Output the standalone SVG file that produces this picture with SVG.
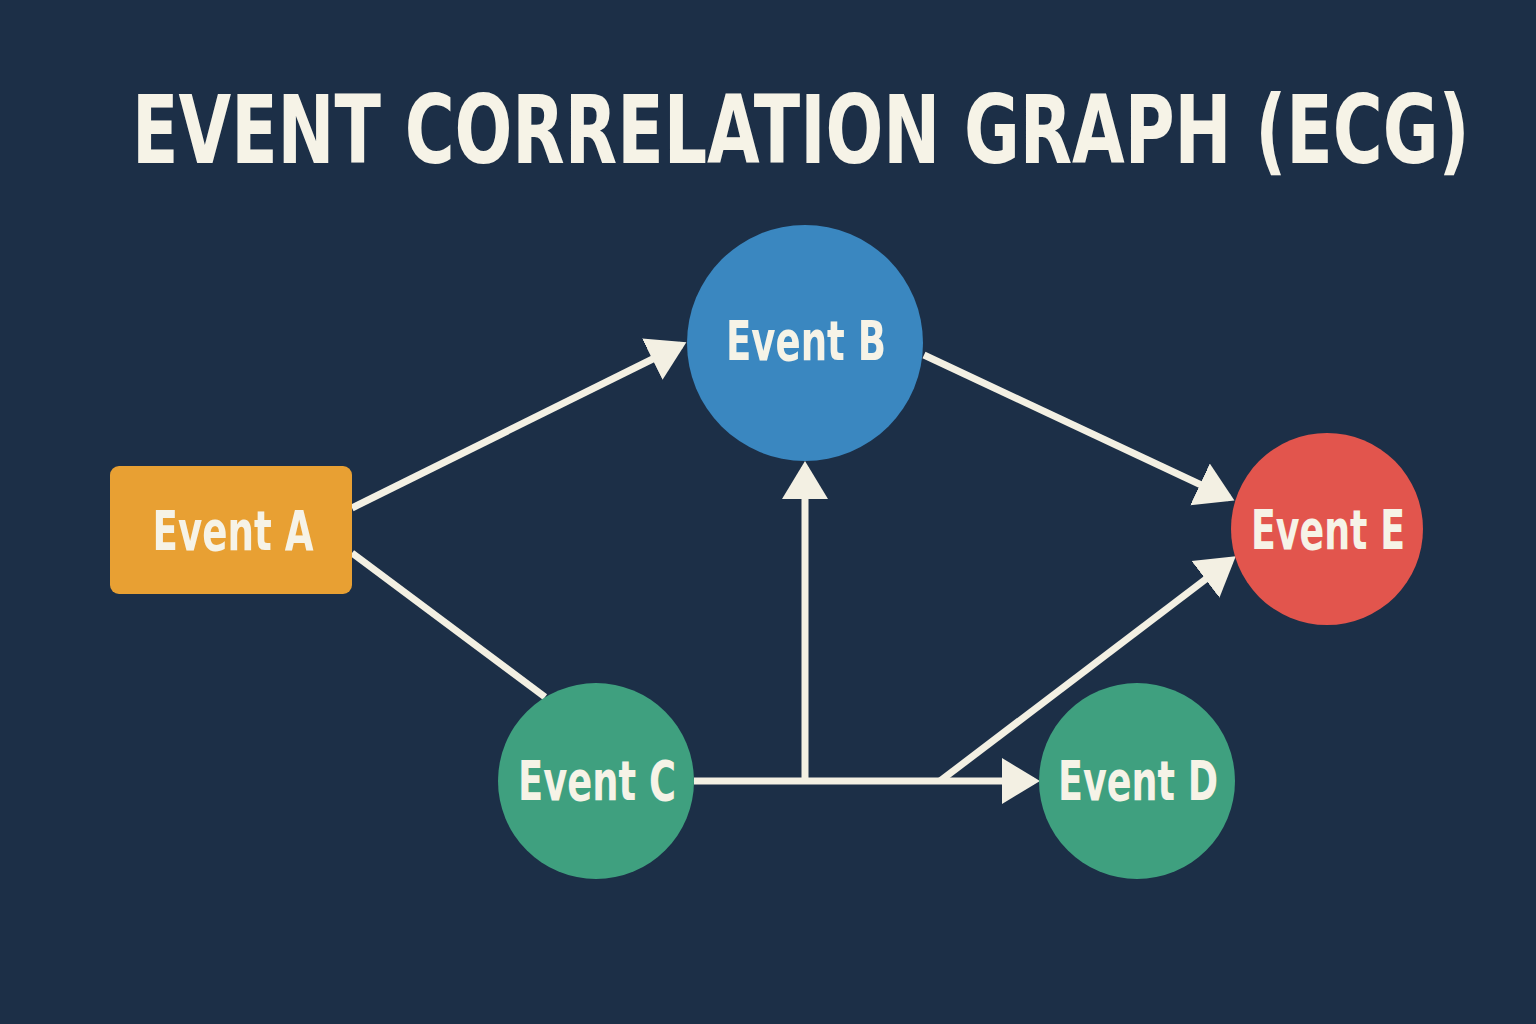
<svg xmlns="http://www.w3.org/2000/svg" width="1536" height="1024" viewBox="0 0 1536 1024">
  <style>
    .title { font-family: "DejaVu Sans Condensed", "DejaVu Sans", "Liberation Sans", sans-serif; font-stretch: condensed; font-weight: bold; fill: #f6f3e7; }
    .label { font-family: "DejaVu Sans Condensed", "DejaVu Sans", "Liberation Sans", sans-serif; font-stretch: condensed; font-weight: bold; fill: #f6f3e7; text-anchor: middle; }
    .edge { stroke: #f3f0e3; stroke-width: 7; fill: none; }
  </style>
  <defs>
    <marker id="arrow" markerUnits="userSpaceOnUse" markerWidth="40" markerHeight="48" refX="32" refY="24" orient="auto">
      <path d="M0,1 L38,24 L0,47 z" fill="#f3f0e3"/>
    </marker>
  </defs>
  <rect width="1536" height="1024" fill="#1c2f47"/>
  <text class="title" transform="translate(132,163) scale(0.8,1)" x="0" y="0" font-size="94" textLength="1672" lengthAdjust="spacingAndGlyphs">EVENT CORRELATION GRAPH (ECG)</text>

  <g id="connectors">
    <line class="edge" x1="352" y1="508" x2="681" y2="345" marker-end="url(#arrow)"/>
    <line class="edge" x1="352" y1="553" x2="545" y2="697"/>
    <line class="edge" x1="924" y1="355" x2="1229" y2="498" marker-end="url(#arrow)"/>
    <line class="edge" x1="694" y1="781" x2="1034" y2="781" marker-end="url(#arrow)"/>
    <line class="edge" x1="805" y1="781" x2="805" y2="467" marker-end="url(#arrow)"/>
    <line class="edge" x1="940" y1="781" x2="1231" y2="560" marker-end="url(#arrow)"/>
  </g>

  <g id="event-a">
    <rect x="110" y="466" width="242" height="128" rx="9" fill="#e8a033"/>
    <text class="label" x="233" y="550" font-size="56" textLength="161" lengthAdjust="spacingAndGlyphs">Event A</text>
  </g>
  <g id="event-b">
    <circle cx="805" cy="343" r="118" fill="#3a87c0"/>
    <text class="label" x="806" y="360" font-size="56" textLength="160" lengthAdjust="spacingAndGlyphs">Event B</text>
  </g>
  <g id="event-e">
    <circle cx="1327" cy="529" r="96" fill="#e2554d"/>
    <text class="label" x="1328" y="549" font-size="56" textLength="154" lengthAdjust="spacingAndGlyphs">Event E</text>
  </g>
  <g id="event-c">
    <circle cx="596" cy="781" r="98" fill="#3fa07f"/>
    <text class="label" x="597" y="800" font-size="56" textLength="158" lengthAdjust="spacingAndGlyphs">Event C</text>
  </g>
  <g id="event-d">
    <circle cx="1137" cy="781" r="98" fill="#3fa07f"/>
    <text class="label" x="1138" y="800" font-size="56" textLength="160" lengthAdjust="spacingAndGlyphs">Event D</text>
  </g>
</svg>
